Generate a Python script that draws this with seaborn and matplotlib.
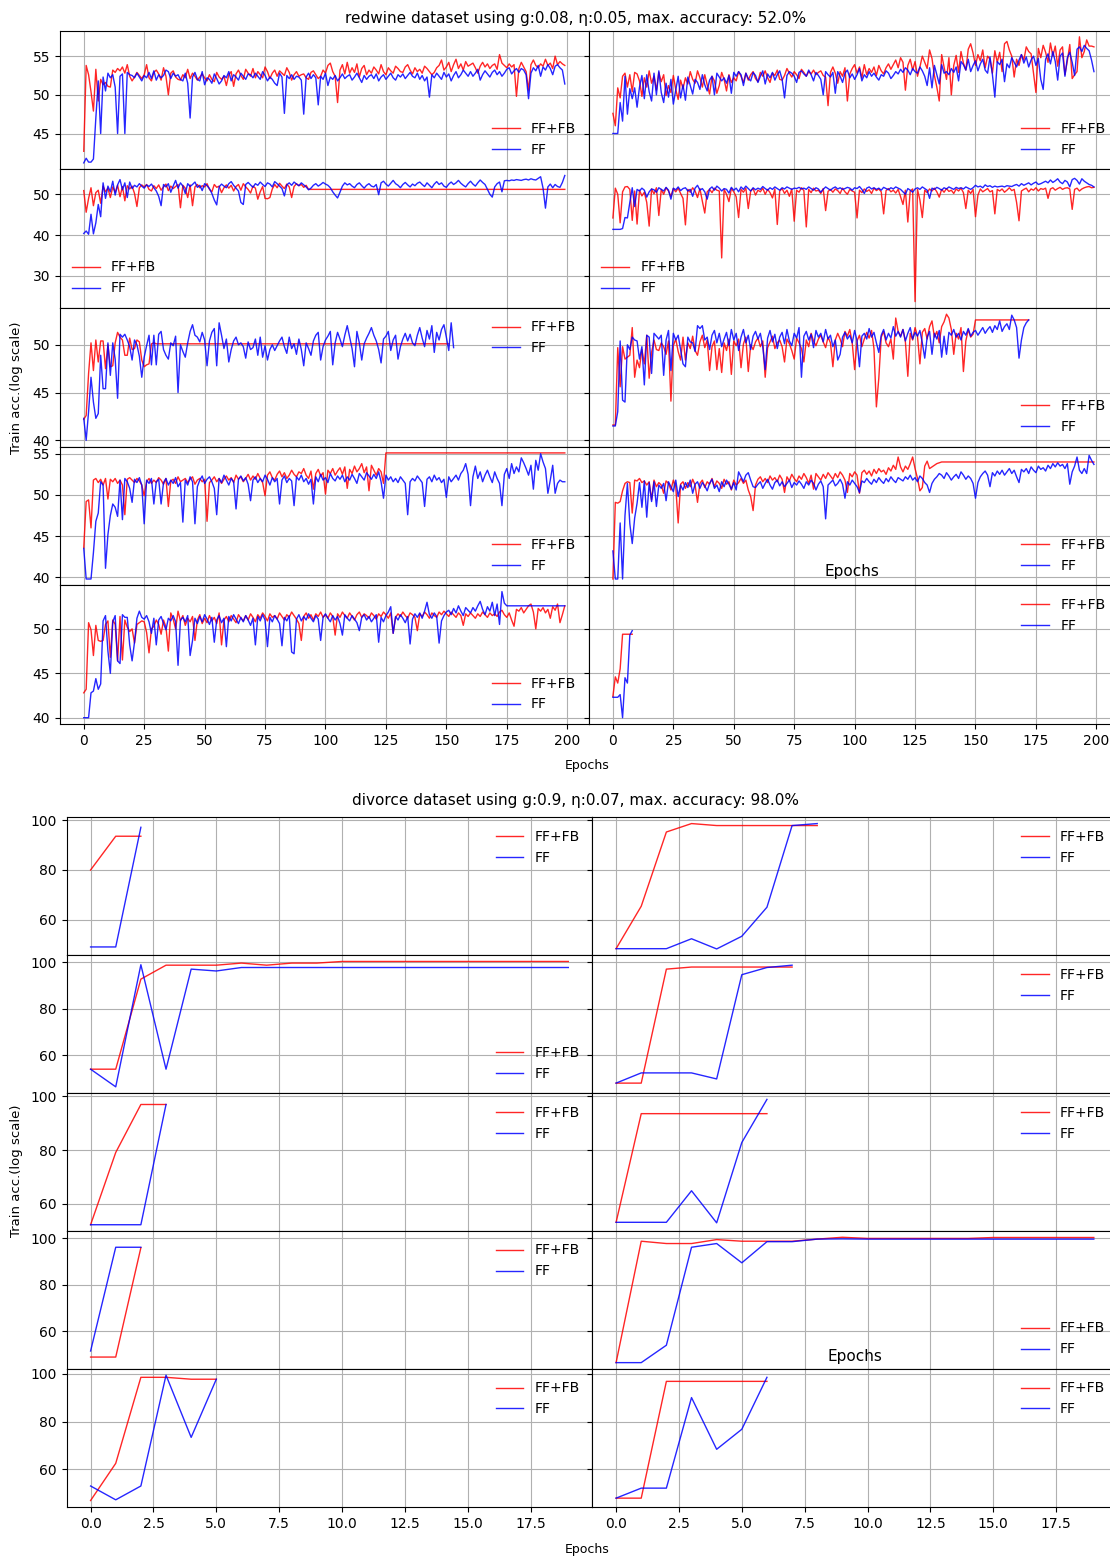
import numpy as np
import pandas as pd
import matplotlib
matplotlib.use("Agg")
import matplotlib.pyplot as plt
import seaborn as sns


def expand(text):
    """Parse a whitespace separated series; 'v*n' repeats value v n times."""
    vals = []
    for tok in text.split():
        if "*" in tok:
            v, n = tok.split("*")
            vals.extend([float(v)] * int(n))
        else:
            vals.append(float(tok))
    return vals


# ---------------------------------------------------------------- redwine
redwine_title = "redwine dataset using g:0.08, \u03b7:0.05, max. accuracy: 52.0%"

rw1_ffb = expand("""
42.7 53.8 52.6 50.4 47.9 53.3 49.2 52.0 51.3 51.6
51.1 51.0 53.2 52.9 53.4 53.1 53.6 52.8 53.9 52.4
51.8 52.3 52.9 52.5 52.1 52.6 53.9 52.2 51.8 52.9
53.2 52.7 51.9 53.5 52.4 50.0 52.8 53.1 52.3 52.0
51.9 52.6 52.2 53.3 52.1 52.8 52.4 51.9 52.3 52.7
52.2 51.8 52.6 52.0 51.7 52.9 52.3 52.0 52.4 51.2
52.6 53.0 51.1 52.7 53.2 52.5 52.0 53.3 52.8 52.4
53.4 52.2 53.0 52.6 52.2 53.6 53.0 52.1 52.8 53.2
52.4 53.1 52.8 52.5 53.5 52.9 51.9 52.6 53.0 52.4
52.6 52.7 52.2 52.0 52.9 53.1 52.6 52.1 52.4 53.2
52.8 53.8 54.1 53.0 52.4 49.0 53.2 53.9 52.7 54.2
52.8 53.5 52.9 54.0 52.3 53.4 53.8 52.6 53.2 52.8
53.6 53.2 52.7 53.9 53.0 52.6 53.5 53.1 52.8 53.7
53.4 53.0 52.9 53.6 53.9 53.2 52.7 53.5 53.0 53.3
52.8 53.7 53.4 53.0 52.6 52.9 53.5 53.8 54.5 53.2
53.6 54.2 53.0 53.9 54.6 53.4 54.0 53.2 54.3 53.7
53.9 54.1 53.5 52.8 53.7 54.2 53.6 54.0 53.4 53.8
54.0 53.3 55.2 54.1 53.8 53.5 54.0 53.6 53.9 49.8
53.4 54.2 53.6 53.0 50.6 53.9 54.5 53.8 53.5 54.0
53.7 54.6 53.8 54.1 53.4 55.0 53.9 54.3 54.0 53.8
""")
rw1_ff = expand("""
41.2 41.8 41.3 41.3 41.7 47.0 51.8 45.0 52.3 50.5
52.8 52.2 52.6 51.0 45.0 52.4 52.7 45.0 52.9 52.6
52.5 52.2 52.8 52.3 51.8 52.5 52.2 52.9 52.1 53.1
51.9 52.6 52.2 52.5 53.2 53.0 52.1 52.8 52.4 52.6
52.0 51.8 52.8 51.5 47.0 52.3 52.9 52.0 51.8 53.0
51.3 52.2 52.0 51.5 52.7 52.1 51.4 51.8 52.5 52.2
53.0 51.8 52.6 52.3 51.9 52.8 52.4 52.0 52.7 52.6
52.2 52.8 52.4 52.0 53.0 52.5 51.8 52.3 52.0 51.5
51.2 52.8 52.3 47.6 52.5 52.1 52.6 52.0 52.4 52.3
51.9 47.5 52.3 52.8 52.1 52.6 52.2 48.7 52.4 52.0
52.8 51.2 52.3 52.0 52.5 51.8 52.2 52.7 52.1 52.4
52.6 51.9 52.3 52.8 52.2 51.6 52.5 52.0 52.4 52.6
52.1 52.7 51.8 52.3 52.6 52.0 52.4 52.8 52.2 51.9
52.6 52.3 52.7 52.1 52.5 52.9 52.4 52.2 52.8 52.0
52.5 51.8 52.3 49.7 52.6 52.2 52.8 52.4 52.0 52.9
52.3 52.7 51.8 52.5 53.0 52.2 52.6 53.2 52.8 52.4
53.0 52.4 52.8 53.3 51.9 52.6 53.1 52.7 52.3 52.9
53.2 52.6 53.0 52.4 52.8 53.3 53.5 52.7 53.1 53.4
52.9 53.4 53.2 52.6 49.5 52.8 53.5 53.1 53.8 52.4
53.6 53.2 53.9 53.4 52.6 53.7 53.9 53.5 53.2 51.4
""")

rw2_ffb = expand("""
47.6 46.0 50.9 49.6 52.4 52.8 51.0 52.6 50.4 52.9
52.7 51.8 49.8 52.2 51.0 53.1 51.5 52.4 50.6 52.9
51.7 52.6 49.9 51.2 50.3 52.5 50.7 49.4 51.9 50.8
52.2 51.4 53.0 52.0 51.5 53.1 52.2 51.0 52.6 51.3
50.1 52.4 51.8 50.2 51.2 52.9 52.0 50.5 52.6 51.6
52.2 51.8 53.0 52.4 51.6 52.8 51.9 52.6 53.0 52.1
51.7 52.9 52.4 53.1 52.2 51.6 52.8 52.5 53.2 52.0
51.9 52.5 53.4 52.8 52.3 53.0 52.6 52.1 53.3 52.9
52.4 53.0 52.7 53.2 52.6 52.9 53.1 52.5 52.3 48.6
52.9 53.6 52.8 51.5 53.0 52.4 53.5 49.2 52.7 53.4
53.9 52.8 53.6 52.2 53.9 52.6 53.4 52.9 53.6 52.5
53.8 53.1 52.7 53.5 54.0 53.3 53.9 54.5 53.5 54.8
54.2 50.6 53.8 54.6 53.2 54.3 52.4 53.6 55.0 54.2
53.4 55.8 54.7 52.5 51.0 49.2 55.2 53.6 52.0 54.8
50.0 53.8 55.1 52.9 55.6 54.1 53.2 55.9 56.6 55.4
53.8 55.2 54.4 55.8 53.5 55.0 54.6 52.8 55.7 54.2
55.5 53.0 56.6 56.9 55.8 55.0 52.3 54.6 53.8 55.2
54.5 56.2 55.6 55.3 52.8 50.3 56.0 54.8 56.4 55.5
54.2 56.7 55.0 56.3 53.7 55.8 56.2 52.6 54.4 56.5
52.1 52.6 53.0 57.5 54.8 55.6 57.1 56.3 56.3 56.2
""")
rw2_ff = expand("""
45.0 45.0 45.0 49.0 46.6 52.4 47.5 50.8 49.5 50.9
48.4 51.0 52.5 49.5 52.6 50.4 49.2 52.8 50.0 53.1
50.3 49.0 51.5 49.7 52.0 48.8 50.6 52.4 49.6 51.3
49.3 52.3 51.2 50.1 52.0 51.6 50.7 52.6 51.3 50.5
51.9 52.4 50.0 52.8 52.3 51.8 52.2 51.5 52.5 50.2
52.9 52.4 53.0 52.6 51.2 52.8 52.1 51.8 52.9 52.5
51.6 52.4 53.1 51.4 52.7 52.2 52.9 51.9 52.6 53.1
52.0 49.6 52.5 53.0 52.8 52.4 51.6 52.9 53.1 52.7
52.4 53.2 52.6 51.8 52.9 52.5 52.0 50.0 53.0 52.6
52.3 52.9 50.2 53.0 52.4 51.6 52.8 53.2 52.2 52.7
52.0 52.6 53.4 51.8 52.6 52.2 53.0 52.4 52.8 52.3
51.9 52.6 52.4 53.1 52.8 52.1 52.5 53.0 52.7 53.3
52.9 53.5 53.2 52.6 53.4 53.0 52.8 53.6 53.1 52.4
51.2 53.5 50.9 53.8 52.6 51.4 53.9 52.8 53.0 52.6
53.4 52.9 53.6 51.8 54.3 53.9 53.2 54.6 53.0 53.8
54.4 53.1 54.0 54.6 53.2 52.8 54.9 52.6 49.7 54.3
53.9 54.6 51.7 54.0 53.5 54.8 54.2 53.6 54.5 55.2
54.1 54.9 53.6 54.5 55.0 53.8 54.7 52.0 50.7 54.6
55.3 54.0 55.6 54.3 51.9 55.0 55.4 52.4 54.8 55.5
54.2 52.5 55.9 56.2 55.6 56.4 56.0 55.7 54.5 53.0
""")

rw3_ffb = expand("""
50.9 45.6 49.0 51.6 47.2 50.4 51.0 47.8 52.0 50.6
51.5 49.2 51.8 50.5 52.2 49.4 51.9 48.4 52.1 51.3
52.0 50.2 47.0 51.6 52.3 51.8 52.4 51.2 50.8 52.1
51.4 52.3 51.0 51.8 52.5 50.9 52.0 51.4 51.9 52.4
46.7 52.2 51.5 49.2 52.3 47.2 51.8 52.4 51.6 52.1
51.8 52.6 51.2 50.6 52.4 51.7 52.0 50.4 51.6 52.3
51.5 52.2 50.8 51.9 52.4 51.0 52.6 51.8 51.2 50.3
52.0 51.5 48.8 50.6 51.9 49.0 48.9 49.2 51.3 52.4
51.6 52.7 52.0 51.4 52.5 51.8 49.2 51.9 52.6 52.1
52.4 51.7 52.2 51.2*107
""")
rw3_ff = expand("""
40.4 41.0 40.2 45.1 40.3 43.0 47.5 44.5 52.8 49.0
52.0 50.6 53.2 49.8 52.3 53.6 51.1 52.8 49.2 53.0
51.4 52.2 51.8 52.6 52.0 51.5 52.3 51.9 52.5 51.6
50.8 49.5 47.2 52.4 51.8 52.6 50.5 52.0 53.4 51.5
52.8 52.0 50.2 52.6 51.9 52.4 53.0 51.7 52.2 50.9
52.6 52.1 51.4 50.2 48.6 47.4 51.8 52.5 52.0 51.6
52.6 53.1 52.2 51.5 50.8 48.0 47.5 52.4 52.9 52.3
51.7 52.6 52.2 53.0 52.4 51.9 52.8 52.5 51.8 53.1
52.6 52.0 51.4 49.6 52.3 52.8 52.2 53.0 52.5 52.1
52.8 52.3 51.8 51.1 51.5 52.2 52.6 52.0 52.4 52.9
52.5 52.2 51.6 50.6 49.8 49.1 50.5 52.0 52.8 52.3
52.6 52.0 51.6 52.4 52.8 52.1 51.5 52.2 52.6 52.0
51.8 52.4 49.9 52.8 53.2 52.5 52.0 52.7 53.4 52.6
52.2 51.6 52.4 52.9 52.3 51.8 52.5 52.1 52.7 53.0
52.4 51.9 52.8 52.2 51.6 52.5 53.1 52.4 52.8 52.0
51.7 52.5 53.0 52.4 52.8 53.4 52.7 52.2 51.8 52.6
53.2 52.5 52.0 52.8 53.5 52.9 52.4 51.2 50.0 49.3
51.8 52.6 53.0 50.6 53.3 53.4 53.3 53.5 53.4 53.6
53.5 53.4 53.6 53.7 53.5 53.8 53.6 53.5 53.9 54.3
51.5 46.6 51.8 52.5 51.6 52.4 51.9 51.7 52.9 54.6
""")

rw4_ffb = expand("""
44.2 51.5 50.0 43.0 50.6 51.8 51.9 51.2 43.6 50.8
42.7 51.0 49.6 50.5 48.0 42.2 51.3 50.1 51.6 44.8
51.2 50.0 51.6 50.8 49.5 51.4 50.6 51.5 50.2 49.0
42.5 51.2 50.5 51.6 50.8 49.2 51.4 48.3 45.4 50.6
51.2 50.4 51.5 51.0 50.8 34.4 51.2 50.0 48.2 51.4
50.6 49.4 44.3 51.2 50.5 51.5 46.5 50.8 51.4 49.8
51.0 50.6 51.5 50.0 51.2 50.4 49.1 51.3 42.6 50.8
51.4 50.2 51.0 49.5 51.3 43.4 51.0 50.5 51.6 50.9
42.0 51.2 50.4 51.5 50.8 51.0 50.2 51.4 46.0 50.7
51.2 50.5 51.3 50.9 50.2 51.5 50.6 50.0 51.2 50.8
50.5 44.2 51.0 50.4 51.3 50.7 51.1 50.2 51.5 50.9
51.3 50.6 45.2 50.9 51.4 50.6 51.0 50.3 51.2 49.4
47.5 51.0 43.2 50.8 51.3 23.7 51.2 48.6 44.3 51.0
50.4 51.3 50.8 51.5 50.6 49.3 51.2 50.5 51.4 50.7
51.0 50.2 51.3 50.8 51.5 50.4 46.5 51.0 50.2 51.2
44.5 49.8 51.3 50.6 51.0 51.4 50.6 50.9 45.2 51.2
50.8 51.3 50.5 51.0 51.6 50.9 51.2 48.0 43.5 50.8
51.2 51.5 50.6 51.3 51.0 51.6 50.8 51.4 51.2 51.5
49.0 51.3 51.6 51.0 51.4 51.7 51.2 51.5 51.6 51.3
46.3 51.2 51.5 50.8 51.3 51.6 51.8 51.9 51.6 51.7
""")
rw4_ff = expand("""
41.4 41.4 41.4 41.4 41.6 44.3 44.2 48.0 51.6 47.0
51.2 50.8 51.5 51.0 49.3 50.6 51.3 51.1 50.5 51.6
51.2 50.8 51.7 51.0 48.8 51.5 51.1 51.8 50.9 51.4
51.6 50.8 51.2 49.5 51.5 52.2 51.0 51.4 50.6 48.8
51.3 51.8 51.0 52.0 51.5 50.8 51.4 51.2 50.3 51.7
51.0 51.5 50.6 51.8 51.2 52.0 51.4 50.8 51.6 51.1
51.5 51.2 51.9 51.4 51.0 51.6 51.2 51.8 51.4 51.0
51.6 51.3 51.8 51.5 51.2 51.5 51.4 51.7 51.3 51.5
51.2 51.8 51.4 51.0 51.6 51.3 50.5 51.2 51.8 51.4
51.0 51.5 51.8 51.3 51.6 51.2 51.4 51.7 51.5 51.0
51.6 51.4 51.9 51.2 50.2 51.5 51.8 51.3 51.6 51.2
51.5 51.0 51.7 51.4 51.1 51.6 51.3 51.8 51.5 51.2
50.6 50.0 51.4 51.0 50.5 51.3 51.6 51.2 51.8 51.4
51.0 49.0 51.5 51.2 51.7 51.4 51.0 51.6 51.3 51.8
51.5 51.2 51.7 51.4 51.6 51.3 51.8 51.5 51.2 51.6
52.2 51.8 52.0 51.6 52.3 51.9 52.1 51.7 52.0 51.8
51.9 52.0 51.8 52.1 52.0 51.9 52.2 52.4 52.0 52.6
52.2 52.5 52.8 52.3 52.7 53.0 52.4 52.6 52.9 53.2
52.8 53.5 52.9 53.3 53.8 53.0 52.6 53.4 53.0 51.8
53.6 53.9 53.4 52.5 53.8 53.2 52.8 52.4 52.2 51.8
""")

rw5_ffb = expand("""
42.2 42.6 47.0 50.2 47.3 50.5 48.2 50.4 50.4 47.5
50.0 47.7 47.8 50.2 51.3 50.8 50.5 48.9 48.9 50.7
49.5 49.6 50.5 50.3 48.4 47.7 47.9 48.0 50.1 50.2
50.1*122
""")
rw5_ff = expand("""
42.3 40.0 43.0 46.6 44.0 42.3 42.8 48.9 45.4 45.4
50.2 46.8 50.2 48.5 44.4 51.1 50.8 51.1 50.5 49.8
48.4 50.5 50.0 48.8 46.6 48.7 49.9 51.0 47.9 51.0
47.9 51.1 51.4 49.5 48.9 48.5 50.2 49.9 50.9 45.0
50.0 49.3 48.7 50.2 51.4 52.1 51.0 50.8 50.3 51.3
50.5 47.8 50.4 51.3 51.7 47.8 52.3 51.0 49.6 50.6
48.2 49.5 50.4 50.8 50.0 50.2 49.8 48.6 50.3 49.5
49.7 50.6 48.9 50.8 48.7 49.9 48.4 49.5 50.0 49.4
49.9 50.4 50.8 49.8 49.1 50.8 49.6 50.1 49.0 50.6
49.5 47.8 50.2 49.6 48.9 50.4 51.0 51.3 48.4 49.8
50.5 50.9 51.4 47.9 50.2 51.3 50.6 49.8 51.0 52.0
50.8 49.6 47.7 51.4 50.2 48.4 50.1 50.7 51.2 51.8
51.0 50.4 49.5 48.1 50.6 50.9 51.4 49.4 50.5 51.0
48.5 49.8 50.6 51.2 50.4 51.1 50.2 49.9 51.0 51.8
50.7 49.8 51.5 50.6 52.0 49.2 51.3 50.5 51.6 52.1
50.8 49.4 52.3 49.7
""")

rw6_ffb = expand("""
41.6 41.6 49.7 45.6 49.8 48.5 48.7 48.9 51.8 46.6
48.4 47.6 49.5 48.0 51.0 46.5 49.2 50.5 49.5 49.4
50.2 49.8 49.0 50.4 44.1 49.9 50.6 49.3 48.4 50.8
48.4 50.2 49.6 50.9 49.4 48.9 50.3 51.0 49.7 50.5
47.3 49.8 50.4 47.4 49.6 47.1 50.2 49.4 50.6 46.9
50.4 49.9 50.6 47.6 50.1 50.8 47.2 50.0 49.5 50.3
50.7 49.8 50.4 46.6 49.7 50.3 50.9 49.6 50.2 50.5
49.8 48.2 50.6 50.1 49.4 48.5 50.7 50.2 49.6 48.2
50.5 49.8 51.2 50.4 49.9 50.6 51.0 50.3 49.7 50.8
50.2 47.7 50.5 51.2 50.6 49.8 51.4 50.9 51.6 50.2
47.4 50.4 51.0 49.8 50.6 51.3 50.7 51.5 49.6 43.5
46.5 50.8 51.4 50.2 49.8 50.6 48.5 52.8 51.4 50.9
51.6 50.3 46.7 51.2 50.5 51.8 50.9 48.0 51.3 51.7
50.6 51.9 52.5 50.8 51.4 50.2 51.9 52.4 53.2 52.8
51.6 49.0 51.2 50.6 51.8 47.2 50.4 51.6 50.8 51.1
52.6*23
""")
rw6_ff = expand("""
41.5 41.5 43.0 50.4 44.2 44.0 50.0 49.5 50.8 50.5
50.4 48.5 49.8 45.8 51.0 50.8 47.0 51.2 50.9 50.6
51.0 46.8 50.5 51.5 47.3 51.2 50.5 51.0 49.5 48.0
47.7 50.8 50.3 50.2 49.3 52.0 51.7 52.0 50.5 50.8
49.5 51.0 51.5 50.2 51.2 49.8 50.6 51.3 49.9 51.6
50.5 51.2 49.4 50.8 51.6 50.2 51.0 49.5 50.9 51.4
50.6 51.2 49.8 47.4 50.7 51.5 50.3 51.1 49.6 50.8
51.3 50.1 51.6 50.4 49.9 51.2 50.7 51.8 46.6 50.9
51.4 50.5 51.1 49.7 51.5 50.8 51.2 50.3 51.6 50.6
51.0 49.8 50.5 48.4 49.0 50.8 51.3 50.6 51.0 50.2
51.5 50.4 47.7 50.9 51.2 50.6 51.7 50.8 51.3 50.2
49.2 51.0 51.6 50.5 51.2 50.7 51.9 50.9 51.4 50.8
51.6 50.4 51.2 51.8 50.6 51.3 50.9 51.5 50.2 48.6
50.8 51.4 49.0 51.2 50.6 51.5 48.7 50.9 49.0 51.3
51.0 51.6 50.8 51.2 50.5 51.4 51.0 51.7 50.9 51.3
51.5 51.0 51.4 51.8 51.2 51.6 51.9 51.3 52.0 51.6
52.5 51.4 51.9 52.2 51.6 53.1 52.6 51.8 48.6 50.5
51.8 52.3 52.6
""")

rw7_ffb = expand("""
43.6 49.2 49.4 46.0 51.8 52.0 51.5 51.9 51.2 52.0
49.5 51.9 51.6 52.0 51.4 51.8 51.2 47.6 51.9 52.1
51.8 51.5 52.0 51.7 51.2 49.9 51.6 52.0 51.4 51.8
51.5 52.1 51.8 51.3 52.0 48.6 51.7 51.9 51.4 52.2
51.6 51.8 52.0 51.5 51.9 52.2 51.3 51.8 52.0 51.6
51.9 46.8 51.5 51.8 52.2 51.6 52.0 51.4 51.9 52.3
51.8 52.1 51.5 52.4 51.9 52.2 51.6 52.0 52.5 51.8
52.3 51.9 52.6 52.0 51.5 49.9 52.4 52.8 52.1 51.8
52.5 52.9 52.2 52.7 52.0 52.4 53.0 52.5 52.2 52.8
52.6 53.2 52.4 52.0 52.9 50.7 52.6 53.1 52.3 52.7
50.1 53.0 52.6 53.2 52.4 52.9 53.3 52.5 53.4 50.8
53.1 52.6 53.5 52.8 53.2 53.8 52.7 53.4 50.5 53.6
53.0 52.4 53.2 52.8 51.4
55.1*75
""")
rw7_ff = expand("""
43.5 39.8 39.8 39.8 43.0 46.8 47.8 51.6 51.2 41.1
45.2 47.5 48.9 48.5 47.4 51.8 47.0 52.0 51.6 50.8
49.1 51.9 51.5 52.1 51.2 46.5 51.8 51.4 52.0 48.9
51.6 51.9 48.9 51.5 52.0 51.2 51.8 51.4 52.1 51.0
51.5 46.7 51.8 51.2 52.2 51.6 46.5 51.0 51.8 52.3
51.4 51.9 52.2 51.6 50.8 47.6 52.0 51.5 52.4 51.8
51.2 52.0 51.6 48.3 51.9 52.3 51.7 52.1 51.3 49.3
51.8 52.2 51.5 52.0 51.6 52.4 51.9 51.2 52.1 51.6
52.0 48.9 51.8 52.3 51.5 52.0 51.7 48.7 52.2 51.8
52.4 51.6 52.0 51.3 51.9 48.9 52.2 51.6 52.5 51.8
52.1 51.5 52.6 52.0 51.7 52.3 51.9 52.4 51.6 52.2
51.8 52.5 52.0 51.4 52.6 52.2 51.8 52.7 52.3 51.9
52.5 52.0 52.8 51.6 49.6 52.4 51.8 52.2 51.6 52.0
51.5 52.2 51.8 51.4 47.6 51.6 52.0 51.7 52.3 51.9
51.5 48.6 51.9 52.2 51.6 52.4 51.8 52.1 51.5 51.9
49.7 52.2 51.6 52.0 52.4 51.8 52.6 53.0 53.8 52.5
48.7 52.2 53.5 52.0 52.8 51.6 52.4 53.0 52.2 51.5
52.8 52.0 51.4 48.7 52.5 53.2 52.0 53.8 52.6 53.4
52.8 54.5 53.9 53.2 52.4 53.6 50.7 54.2 53.0 55.0
54.0 53.2 50.2 51.8 53.6 50.2 51.4 51.8 51.6 51.6
""")

rw8_ffb = expand("""
39.8 49.1 49.0 49.2 50.5 51.4 51.6 51.5 47.8 51.8
51.7 52.0 51.5 51.7 51.2 51.6 49.4 51.8 51.0 51.5
51.2 50.2 51.7 51.4 50.6 51.8 51.0 46.6 51.3 51.6
50.8 51.5 51.0 51.9 51.2 49.1 51.4 51.8 50.9 51.6
51.3 52.0 51.0 51.7 51.4 50.8 51.9 51.3 51.6 50.6
51.8 51.2 51.5 52.0 51.4 51.8 50.6 49.8 48.1 51.2
51.9 52.2 51.6 52.0 51.5 52.3 51.8 52.1 51.6 52.4
51.9 50.3 52.2 51.7 52.5 52.0 51.6 52.3 51.9 52.6
52.1 51.4 52.4 50.7 52.6 52.2 51.8 52.5 52.0 52.7
52.3 51.9 52.6 52.1 52.8 52.4 51.8 50.3 52.6 52.2
52.8 52.4 50.2 52.7 53.0 52.5 52.9 52.3 53.1 52.6
53.2 52.8 53.0 52.5 53.3 52.9 53.6 53.1 54.6 53.4
52.8 53.5 53.1 53.8 54.6 53.2 52.0 50.5 50.9 53.5
54.1 53.2 53.4 53.6 53.8 53.9 54.0
54.0*63
""")
rw8_ff = expand("""
43.2 39.8 39.8 46.6 39.8 47.5 51.4 46.5 44.1 47.2
49.0 51.5 48.5 51.7 47.3 51.5 49.2 51.6 48.6 51.2
50.8 51.4 49.3 51.6 51.0 50.4 51.8 49.8 51.2 50.6
51.5 50.9 51.8 50.2 51.3 51.6 50.8 51.5 51.1 50.5
51.4 51.9 50.8 51.2 50.4 51.6 51.0 51.8 51.3 50.7
51.5 50.6 52.8 52.2 51.6 52.4 52.7 51.8 51.0 50.9
51.3 51.6 50.8 51.4 51.9 51.2 50.7 51.5 51.8 51.1
51.6 51.0 51.4 51.8 50.9 51.5 51.2 51.7 51.3 50.8
51.6 51.2 51.8 51.4 50.6 51.3 51.7 51.0 47.1 51.2
51.5 51.8 51.1 51.4 51.9 51.3 49.6 51.6 51.2 51.8
51.4 51.0 50.3 51.7 51.5 52.0 51.6 51.3 51.9 51.5
52.1 51.7 51.4 52.0 51.6 52.2 51.8 51.5 52.1 51.9
51.7 52.2 51.9 52.4 51.8 52.1 51.6 52.3 52.0 51.5
51.2 50.3 51.4 51.9 52.2 52.6 52.4 52.0 52.7 52.3
51.8 52.2 52.5 52.0 52.8 52.4 51.9 52.3 52.0 51.4
49.6 51.5 52.2 52.6 52.9 52.4 51.0 52.7 52.3 52.9
52.5 53.0 52.4 52.8 53.2 52.6 53.0 52.2 51.5 53.1
52.8 53.2 52.6 53.4 53.0 52.7 53.5 53.1 53.3 52.9
53.6 53.2 53.8 53.4 53.9 53.5 53.7 53.2 53.8 51.3
52.8 53.5 54.6 53.0 52.6 53.2 52.6 54.8 54.2 53.7
""")

rw9_ffb = expand("""
42.8 43.2 50.7 49.9 47.0 50.4 48.7 48.6 48.7 50.5
50.9 46.8 51.0 50.5 46.4 51.4 46.5 51.0 50.2 49.7
50.0 48.4 50.5 50.7 50.9 50.8 49.6 47.3 50.0 50.3
51.0 50.5 49.4 51.0 50.2 47.5 51.8 51.1 50.0 52.0
50.9 51.5 50.4 51.2 50.8 51.4 48.7 51.0 51.6 50.6
51.2 50.7 51.5 50.9 51.3 50.6 51.8 48.2 51.0 51.4
50.8 51.5 51.1 50.7 51.6 51.2 50.9 51.5 51.0 51.7
51.3 50.8 51.6 51.2 51.8 51.4 50.9 51.7 51.3 51.5
51.1 51.8 51.4 51.0 51.6 51.3 51.9 51.5 51.1 50.6
48.7 51.4 51.8 51.2 51.6 51.0 51.7 51.4 51.9 51.3
51.6 51.2 51.8 51.4 49.3 51.7 51.3 51.9 51.5 51.2
51.8 51.4 51.0 51.6 51.9 51.3 51.7 51.5 51.2 51.8
51.5 51.1 51.7 51.4 51.9 51.6 51.2 51.8 49.5 51.3
51.7 51.4 51.9 51.5 51.2 51.8 51.6 51.3 49.8 51.7
51.4 51.9 51.6 51.2 51.8 51.5 51.3 51.9 51.6 52.0
51.7 51.4 51.9 51.6 51.3 51.8 51.5 50.4 51.7 51.4
51.8 51.5 51.2 51.7 51.4 51.9 51.6 51.3 51.8 51.5
51.7 51.4 51.9 52.1 51.6 51.3 51.8 51.0 50.3 52.2
52.0 52.4 51.8 52.2 52.6 52.8 51.9 50.0 52.3 52.0
52.4 51.8 52.2 51.2 52.5 52.1 52.8 50.7 51.6 52.6
""")
rw9_ff = expand("""
40.0 40.0 40.0 42.8 43.0 44.4 43.2 43.8 50.9 51.5
47.5 45.0 50.8 51.5 46.4 46.1 51.6 51.3 51.3 48.2
46.4 48.5 51.2 52.0 51.3 51.1 51.5 50.8 49.5 51.2
48.2 51.0 51.4 50.6 49.9 51.2 50.9 51.5 50.8 45.9
51.0 51.3 50.8 51.5 47.0 48.7 51.2 50.6 51.4 50.8
51.6 51.1 50.5 51.3 48.5 51.0 51.5 50.7 51.2 48.0
51.4 50.9 51.6 51.1 50.6 51.3 50.8 51.5 51.0 50.4
51.2 48.2 51.4 50.9 51.6 51.0 48.0 51.3 50.8 51.5
51.1 50.6 48.1 51.3 50.9 51.5 47.4 47.2 51.1 51.6
50.9 51.4 51.0 51.7 51.2 50.8 51.5 51.1 48.7 51.3
51.7 51.2 50.8 51.5 51.0 51.4 50.6 49.3 51.6 51.2
50.9 51.5 51.1 50.7 49.8 51.3 51.6 51.0 51.4 50.8
51.2 51.6 48.5 51.3 50.8 51.5 51.9 52.5 49.5 51.4
51.0 51.6 51.2 50.7 51.4 48.3 51.1 51.7 51.3 51.8
51.2 52.0 53.0 51.6 51.2 51.8 51.4 48.4 50.9 51.5
51.9 52.1 51.6 52.3 51.8 52.6 52.0 51.5 52.4 52.1
51.8 52.4 52.0 52.6 53.1 52.2 51.6 52.5 52.0 53.0
51.5 52.8 50.5 54.2 52.9
52.6*25
""")

rw10_ffb = expand("42.4 44.6 43.9 45.5 49.4 49.4 49.4 49.4 49.4")
rw10_ff = expand("42.3 42.3 42.3 42.6 40.0 44.5 43.9 49.3 49.8")

redwine_runs = [
    (rw1_ffb, rw1_ff), (rw2_ffb, rw2_ff),
    (rw3_ffb, rw3_ff), (rw4_ffb, rw4_ff),
    (rw5_ffb, rw5_ff), (rw6_ffb, rw6_ff),
    (rw7_ffb, rw7_ff), (rw8_ffb, rw8_ff),
    (rw9_ffb, rw9_ff), (rw10_ffb, rw10_ff),
]
redwine_legend_locs = [
    "lower right", "lower right",
    "lower left", "lower left",
    "upper right", "lower right",
    "lower right", "lower right",
    "lower right", "upper right",
]

# ---------------------------------------------------------------- divorce
divorce_title = "divorce dataset using g:0.9, \u03b7:0.07, max. accuracy: 98.0%"

dv1_ffb = [80.0, 93.6, 93.6]
dv1_ff = [49.0, 49.0, 97.2]
dv2_ffb = [48.3, 65.4, 95.3, 98.7, 97.9, 97.9, 97.9, 97.9, 97.9]
dv2_ff = [48.3, 48.3, 48.3, 52.3, 48.2, 53.3, 65.0, 97.9, 98.7]
dv3_ffb = [54.0, 54.0, 92.8, 98.8, 98.8, 98.8, 99.7, 98.8, 99.7, 99.7] + [100.4] * 10
dv3_ff = [54.0, 46.4, 99.0, 54.0, 97.1, 96.3] + [97.8] * 14
dv4_ffb = [48.0, 48.0, 97.1, 98.0, 98.0, 98.0, 98.0, 98.0]
dv4_ff = [48.0, 52.4, 52.4, 52.4, 49.8, 94.7, 97.8, 98.8]
dv5_ffb = [52.3, 79.1, 96.9, 96.9]
dv5_ff = [52.3, 52.3, 52.3, 96.9]
dv6_ffb = [53.2, 93.5, 93.5, 93.5, 93.5, 93.5, 93.5]
dv6_ff = [53.2, 53.2, 53.2, 64.9, 53.0, 82.8, 98.8]
dv7_ffb = [48.8, 48.8, 95.9]
dv7_ff = [51.4, 96.1, 96.1]
dv8_ffb = [46.4, 98.7, 97.7, 97.7, 99.4, 98.7, 98.7, 98.7, 99.6, 100.4,
           99.9, 99.9, 99.9, 99.9, 99.9, 100.3, 100.3, 100.3, 100.3, 100.3]
dv8_ff = [46.4, 46.4, 53.9, 96.1, 97.7, 89.4, 98.5, 98.5, 99.6, 99.7] + [99.6] * 10
dv9_ffb = [46.9, 62.5, 98.6, 98.6, 97.8, 97.8]
dv9_ff = [53.0, 47.2, 53.0, 99.5, 73.4, 97.8]
dv10_ffb = [47.9, 47.9, 96.9, 96.9, 96.9, 96.9, 96.9]
dv10_ff = [47.9, 52.1, 52.1, 90.1, 68.4, 76.8, 98.6]

divorce_runs = [
    (dv1_ffb, dv1_ff), (dv2_ffb, dv2_ff),
    (dv3_ffb, dv3_ff), (dv4_ffb, dv4_ff),
    (dv5_ffb, dv5_ff), (dv6_ffb, dv6_ff),
    (dv7_ffb, dv7_ff), (dv8_ffb, dv8_ff),
    (dv9_ffb, dv9_ff), (dv10_ffb, dv10_ff),
]
divorce_legend_locs = [
    "upper right", "upper right",
    "lower right", "upper right",
    "upper right", "upper right",
    "upper right", "lower right",
    "upper right", "upper right",
]

# ---------------------------------------------------------------- drawing
W, H = 1110, 1557
fig = plt.figure(figsize=(W / 100, H / 100), dpi=100)


def fx(px):
    return px / W


def fy(py):
    return 1 - py / H


def draw_group(runs, locs, frame, title, title_py, xlabel_py, ylabel_py, note_xy):
    gs = fig.add_gridspec(5, 2, hspace=0, wspace=0, **frame)
    axs = gs.subplots(sharex=True, sharey="row")
    for ax, (ffb, ff), loc in zip(axs.flat, runs, locs):
        d1 = pd.DataFrame({"epoch": np.arange(len(ffb)), "acc": ffb})
        d2 = pd.DataFrame({"epoch": np.arange(len(ff)), "acc": ff})
        sns.lineplot(data=d1, x="epoch", y="acc", color="red", lw=1,
                     alpha=0.85, label="FF+FB", ax=ax)
        sns.lineplot(data=d2, x="epoch", y="acc", color="blue", lw=1,
                     alpha=0.85, label="FF", ax=ax)
        ax.legend(loc=loc, frameon=False, fontsize=10)
        ax.grid(True, color="#b0b0b0", lw=0.8)
        ax.set_xlabel("")
        ax.set_ylabel("")
        ax.tick_params(labelsize=10)
    fig.text(fx(576), fy(title_py), title, ha="center", va="center", fontsize=11)
    fig.text(fx(587), fy(xlabel_py), "Epochs", ha="center", va="center", fontsize=9)
    fig.text(fx(17), fy(ylabel_py), "Train acc.(log scale)", ha="center",
             va="center", rotation=90, fontsize=9.5)
    fig.text(fx(note_xy[0]), fy(note_xy[1]), "Epochs", ha="center",
             va="center", fontsize=11)


draw_group(redwine_runs, redwine_legend_locs,
           dict(left=fx(59.7), right=fx(1118), top=fy(30.5), bottom=fy(724)),
           redwine_title, 18, 766, 388, (852, 572))
draw_group(divorce_runs, divorce_legend_locs,
           dict(left=fx(66.7), right=fx(1117.7), top=fy(817.3), bottom=fy(1506.8)),
           divorce_title, 801, 1549, 1171, (855, 1356))

fig.savefig("out.png", dpi=100)
